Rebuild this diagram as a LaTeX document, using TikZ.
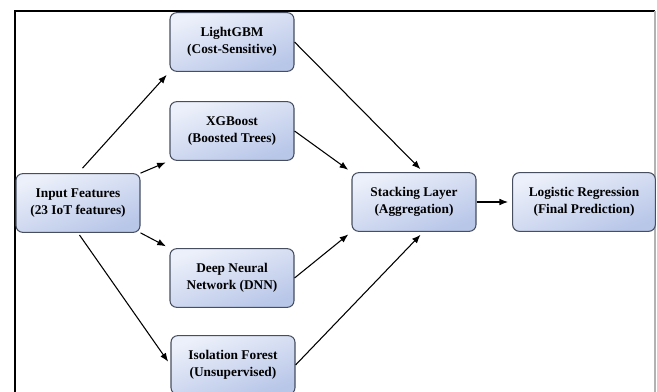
\documentclass[tikz,border=0pt]{standalone}
\usepackage{fontspec}
\setmainfont{Liberation Serif}
\usepackage{xcolor}
\usepackage{tikz}
\usetikzlibrary{arrows.meta, positioning}

\definecolor{boxtop}{RGB}{236,240,250}
\definecolor{boxbot}{RGB}{184,198,232}
\definecolor{boxline}{RGB}{70,78,96}

\begin{document}
\begin{tikzpicture}[
    x=0.75pt, y=-0.75pt,
    box/.style={draw=boxline, line width=0.8pt, rounded corners=5pt,
                top color=boxtop, bottom color=boxbot, shading angle=20,
                minimum width=93pt, minimum height=44pt, align=center,
                font=\fontsize{10}{12.5}\selectfont\bfseries},
    arrow/.style={-{Latex[length=6.5pt,width=5pt]}, line width=0.8pt, shorten >=3pt}
]
\useasboundingbox (0,0) rectangle (657,392);

% frame
\draw[line width=0.9pt] (15,395) -- (15,11) -- (655,11);
\draw[line width=0.9pt, gray!60] (655,11) -- (655,395);

\node[box] (feat) at (78,203) {Input Features\\(23 IoT features)};
\node[box] (lgbm) at (232,42) {LightGBM\\(Cost-Sensitive)};
\node[box] (xgb) at (232,131) {XGBoost\\(Boosted Trees)};
\node[box] (dnn) at (232,278) {Deep Neural\\Network (DNN)};
\node[box] (iso) at (233,365) {Isolation Forest\\(Unsupervised)};
\node[box] (stack) at (414,202) {Stacking Layer\\(Aggregation)};
\node[box, minimum width=107pt] (lr) at (584,202) {Logistic Regression\\(Final Prediction)};

\draw[arrow, shorten <=5pt] (feat.north) -- (lgbm.south west);
\draw[arrow] (feat.north east) -- (xgb.south west);
\draw[arrow] (feat.south east) -- (dnn.north west);
\draw[arrow, shorten <=2pt] (feat.south) -- (iso.west);

\draw[arrow] (lgbm.east) -- ([xshift=7pt]stack.north);
\draw[arrow] (xgb.east) -- (stack.north west);
\draw[arrow] (dnn.east) -- (stack.south west);
\draw[arrow] (iso.east) -- ([xshift=7pt]stack.south);

\draw[arrow] (stack) -- (lr);
\end{tikzpicture}
\end{document}
